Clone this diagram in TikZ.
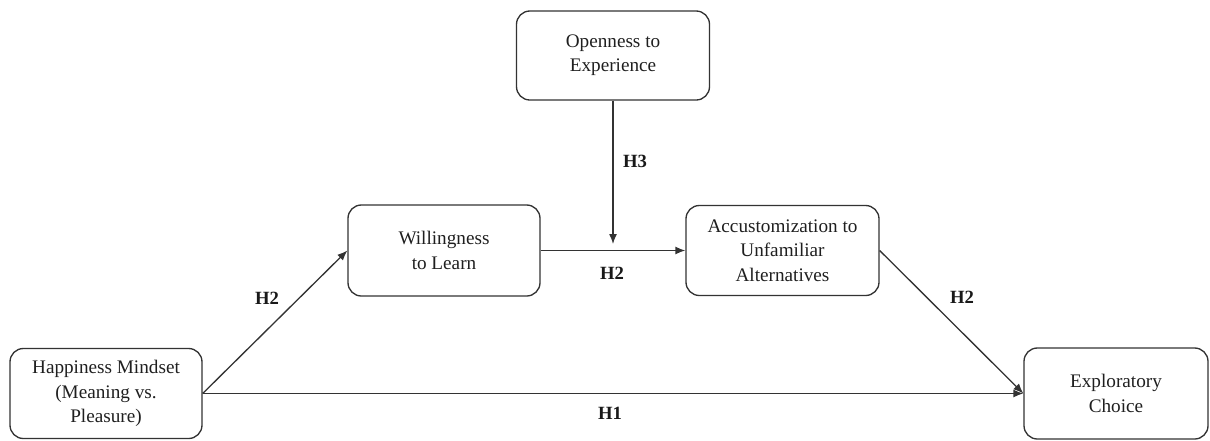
\documentclass[tikz,border=0pt]{standalone}
\usepackage{fontspec}
\setmainfont{Liberation Serif}
\usetikzlibrary{arrows.meta}
\begin{document}
\begin{tikzpicture}[x=0.75pt,y=-0.75pt,
  box/.style={draw=black!80, line width=1pt, rounded corners=10pt, align=center,
    font=\fontsize{14.4}{18.2}\selectfont, text=black!88, inner sep=0pt},
  lbl/.style={font=\fontsize{14}{18}\selectfont\bfseries, text=black!90, inner sep=0pt},
  arr/.style={draw=black!80, line width=1pt, -{Latex[length=7.5pt,width=6pt]}},
  ln/.style={draw=black!80, line width=1pt}]
\useasboundingbox (0,0) rectangle (1210,440);
\node[box, minimum width=144pt, minimum height=67.5pt] (hap) at (106,393.5) {Happiness Mindset\\(Meaning vs.\\Pleasure)};
\node[box, minimum width=144pt, minimum height=68.25pt] (wil) at (444,250.5) {Willingness\\to Learn};
\node[box, minimum width=144.75pt, minimum height=67.5pt] (acc) at (782.5,250.5) {Accustomization to\\Unfamiliar\\Alternatives};
\node[box, minimum width=144.75pt, minimum height=66.75pt] (ope) at (613,55.5) {Openness to\\Experience};
\node[box, minimum width=138pt, minimum height=68.25pt] (exp) at (1116,393.5) {Exploratory\\Choice};
\coordinate (m) at (613,244);
\draw[arr] (hap.east) -- (exp.west);
\draw[arr] (hap.east) -- (wil.west);
\draw[arr] (wil.east) -- (acc.west);
\draw[arr] (acc.east) -- (exp.west);
\draw[arr] (ope.south) -- (m);
\node[lbl] (h2a) at (267,298) {H2};
\node[lbl] (h2b) at (612,273) {H2};
\node[lbl] (h2c) at (962,297) {H2};
\node[lbl] (h1) at (610,413) {H1};
\node[lbl] (h3) at (635,161) {H3};
\end{tikzpicture}
\end{document}
